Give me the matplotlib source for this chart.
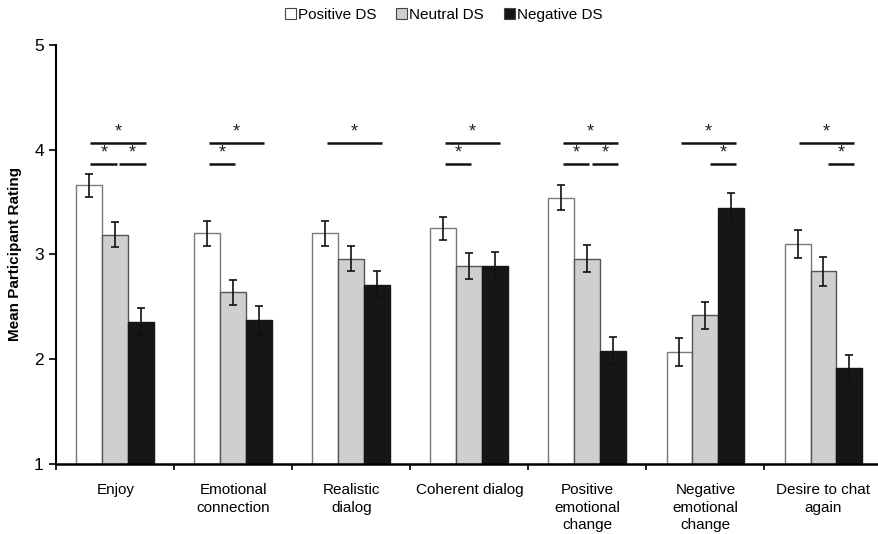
import numpy as np
import matplotlib.pyplot as plt
from matplotlib.patches import Patch

plt.rcParams['font.family'] = ['Liberation Sans', 'DejaVu Sans']

categories = ['Enjoy', 'Emotional\nconnection', 'Realistic\ndialog', 'Coherent dialog',
              'Positive\nemotional\nchange', 'Negative\nemotional\nchange', 'Desire to chat\nagain']
series = ['Positive DS', 'Neutral DS', 'Negative DS']

positive = [3.66, 3.20, 3.20, 3.25, 3.54, 2.07, 3.10]
neutral = [3.19, 2.64, 2.96, 2.89, 2.96, 2.42, 2.84]
negative = [2.36, 2.37, 2.71, 2.89, 2.08, 3.44, 1.92]

positive_err = [0.11, 0.12, 0.12, 0.11, 0.12, 0.13, 0.13]
neutral_err = [0.12, 0.12, 0.12, 0.12, 0.13, 0.13, 0.14]
negative_err = [0.13, 0.14, 0.13, 0.13, 0.13, 0.15, 0.12]

# significance brackets: (category, bar a, bar b, level) level 0 = lower, 1 = upper
sig_pairs = [(0, 0, 2, 1), (0, 0, 1, 0), (0, 1, 2, 0),
             (1, 0, 2, 1), (1, 0, 1, 0),
             (2, 0, 2, 1),
             (3, 0, 2, 1), (3, 0, 1, 0),
             (4, 0, 2, 1), (4, 0, 1, 0), (4, 1, 2, 0),
             (5, 0, 2, 1), (5, 1, 2, 0),
             (6, 0, 2, 1), (6, 1, 2, 0)]
sig_levels = [3.86, 4.06]

fills = ['white', '#cfcfcf', '#161616']
edges = ['#7a7a7a', '#555555', '#161616']

fig = plt.figure(figsize=(8.79, 5.34), dpi=100)
ax = fig.add_axes([0.064, 0.131, 0.94, 0.785])

x = np.arange(len(categories))
w = 0.22
offsets = [-w, 0, w]
for vals, errs, off, fc, ec in zip([positive, neutral, negative],
                                    [positive_err, neutral_err, negative_err],
                                    offsets, fills, edges):
    ax.bar(x + off, np.array(vals) - 1, width=w, bottom=1, color=fc,
           edgecolor=ec, linewidth=1.0, zorder=2)
    ax.errorbar(x + off, vals, yerr=errs, fmt='none', ecolor='#111111',
                elinewidth=1.2, capsize=3, capthick=1.2, zorder=3)

for c, a, b, lev in sig_pairs:
    x0 = c + offsets[a] + (0.035 if a == 1 else 0.01)
    x1 = c + offsets[b] + (0.015 if b == 1 else 0.04)
    y = sig_levels[lev]
    ax.plot([x0, x1], [y, y], color='#111111', lw=1.8, solid_capstyle='butt', zorder=3)
    ax.text((x0 + x1) / 2, y + 0.03, '*', ha='center', va='bottom',
            fontsize=13, color='#222222')

ax.set_xlim(-0.5, len(categories) - 0.5)
ax.set_ylim(1, 5)
ax.set_yticks([1, 2, 3, 4, 5])
ax.set_xticks(np.arange(len(categories) + 1) - 0.5)
ax.set_xticklabels([])
ax.set_xticks(x, minor=True)
ax.set_xticklabels(categories, minor=True, fontsize=11, va='top', linespacing=1.3)
ax.tick_params(axis='x', which='minor', length=0, pad=14)
ax.tick_params(axis='x', which='major', length=4, width=1.2, direction='out')
ax.tick_params(axis='y', length=5, width=1.2, labelsize=12.5, pad=4)
for lab in ax.get_xticklabels(minor=True):
    lab.set_multialignment('center')

ax.spines['top'].set_visible(False)
ax.spines['right'].set_visible(False)
ax.spines['left'].set_linewidth(1.5)
ax.spines['bottom'].set_linewidth(1.8)
ax.set_ylabel('Mean Participant Rating', fontsize=11, fontweight='bold', labelpad=9)

handles = [Patch(facecolor=fc, edgecolor='#444444', linewidth=0.8) for fc in fills]
fig.legend(handles, series, loc='center', bbox_to_anchor=(0.505, 0.972), ncol=3,
           frameon=False, fontsize=11, handlelength=0.7, handleheight=0.7,
           handletextpad=0.15, columnspacing=1.3)

fig.savefig('out.png', dpi=100)
